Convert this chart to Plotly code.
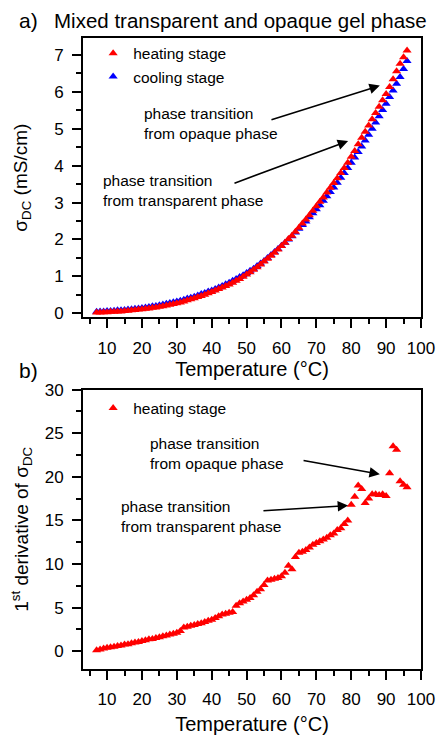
import plotly.graph_objects as go

# ---------------- data ----------------
temp_heat = list(range(7, 97))
sigma_heat = [0.02, 0.02, 0.03, 0.03, 0.04, 0.04, 0.05, 0.05, 0.06, 0.07,
              0.08, 0.09, 0.10, 0.11, 0.12, 0.13, 0.15, 0.16, 0.18, 0.19,
              0.21, 0.23, 0.25, 0.27, 0.29, 0.32, 0.35, 0.38, 0.41, 0.44,
              0.47, 0.50, 0.54, 0.58, 0.62, 0.66, 0.70, 0.74, 0.78, 0.83,
              0.88, 0.93, 0.99, 1.05, 1.11, 1.18, 1.25, 1.32, 1.40, 1.48,
              1.56, 1.64, 1.73, 1.82, 1.91, 2.01, 2.10, 2.21, 2.32, 2.43,
              2.54, 2.66, 2.78, 2.90, 3.02, 3.14, 3.27, 3.40, 3.53, 3.66,
              3.80, 3.94, 4.08, 4.24, 4.40, 4.58, 4.76, 4.92, 5.09, 5.26,
              5.43, 5.60, 5.77, 5.94, 6.13, 6.34, 6.56, 6.76, 6.94, 7.12]

temp_cool = list(range(7, 97))
sigma_cool = [0.04, 0.05, 0.05, 0.06, 0.06, 0.07, 0.08, 0.08, 0.09, 0.10,
              0.11, 0.12, 0.13, 0.14, 0.16, 0.17, 0.19, 0.20, 0.22, 0.24,
              0.26, 0.28, 0.30, 0.32, 0.34, 0.37, 0.40, 0.42, 0.45, 0.48,
              0.52, 0.55, 0.59, 0.62, 0.66, 0.70, 0.74, 0.79, 0.83, 0.88,
              0.93, 0.98, 1.03, 1.09, 1.15, 1.21, 1.28, 1.35, 1.42, 1.50,
              1.58, 1.66, 1.74, 1.83, 1.91, 2.00, 2.09, 2.19, 2.29, 2.39,
              2.49, 2.60, 2.71, 2.82, 2.93, 3.05, 3.17, 3.29, 3.41, 3.54,
              3.67, 3.80, 3.94, 4.08, 4.22, 4.37, 4.52, 4.68, 4.84, 5.00,
              5.17, 5.34, 5.51, 5.68, 5.86, 6.04, 6.22, 6.40, 6.62, 6.84]

temp_deriv = list(range(7, 97))
deriv_heat = [0.10, 0.20, 0.30, 0.40, 0.45, 0.50, 0.60, 0.65, 0.75, 0.80,
              0.90, 1.00, 1.05, 1.15, 1.25, 1.35, 1.40, 1.50, 1.60, 1.70,
              1.80, 1.90, 2.00, 2.10, 2.30, 2.70, 2.80, 2.90, 3.00, 3.10,
              3.20, 3.35, 3.50, 3.60, 3.80, 4.00, 4.20, 4.30, 4.40, 4.50,
              5.20, 5.50, 5.70, 5.90, 6.10, 6.40, 6.80, 7.10, 7.60, 8.10,
              8.20, 8.30, 8.40, 8.60, 9.00, 9.80, 9.40, 10.8, 11.3, 11.4,
              11.6, 11.9, 12.2, 12.4, 12.6, 12.8, 13.0, 13.3, 13.5, 13.9,
              14.1, 14.6, 15.0, 16.8, 17.7, 19.0, 18.6, 17.0, 17.5, 18.0,
              18.0, 17.9, 18.0, 17.8, 20.4, 23.5, 23.1, 19.5, 19.1, 18.8]

x_ticks = [10, 20, 30, 40, 50, 60, 70, 80, 90, 100]

# ---------------- figure ----------------
FONT = "Arial, 'Liberation Sans', sans-serif"
RED = "#ff0000"
BLUE = "#0000ff"

fig = go.Figure()
fig.add_trace(go.Scatter(x=temp_cool, y=sigma_cool, mode="markers", name="cooling stage",
                         marker=dict(symbol="triangle-up", size=8, color=BLUE),
                         xaxis="x", yaxis="y", legend="legend", legendrank=2))
fig.add_trace(go.Scatter(x=temp_heat, y=sigma_heat, mode="markers", name="heating stage",
                         marker=dict(symbol="triangle-up", size=8, color=RED),
                         xaxis="x", yaxis="y", legend="legend", legendrank=1))
fig.add_trace(go.Scatter(x=temp_deriv, y=deriv_heat, mode="markers", name="heating stage",
                         marker=dict(symbol="triangle-up", size=8, color=RED),
                         xaxis="x2", yaxis="y2", legend="legend2"))

axis_common = dict(showline=True, mirror=True, linecolor="black", linewidth=2,
                   ticks="outside", tickcolor="black", tickwidth=2, ticklen=9,
                   showgrid=False, zeroline=False,
                   tickfont=dict(family=FONT, size=17, color="black"),
                   ticklabelstandoff=5)

xa = dict(axis_common, range=[3.1, 100], tickvals=x_ticks,
          minor=dict(ticks="outside", ticklen=5, tickwidth=2, tickcolor="black",
                     dtick=5, tick0=5, showgrid=False))
xtitle_font = dict(family=FONT, size=20, color="black")

top_dom = [0.5573, 1.0]
bot_dom = [0.0, 0.4427]

fig.update_layout(
    width=447, height=744,
    margin=dict(l=83, r=26, t=38, b=69),
    paper_bgcolor="white", plot_bgcolor="white",
    font=dict(family=FONT, color="black"),
    xaxis=dict(xa, anchor="y",
               title=dict(text="Temperature (°C)", font=xtitle_font, standoff=3)),
    xaxis2=dict(xa, anchor="y2",
                title=dict(text="Temperature (°C)", font=xtitle_font, standoff=9)),
    yaxis=dict(axis_common, domain=top_dom, anchor="x", range=[-0.11, 7.46],
               dtick=1, tick0=0,
               minor=dict(ticks="outside", ticklen=5, tickwidth=2, tickcolor="black",
                          dtick=0.5, showgrid=False),
               title=dict(text="σ<sub>DC</sub> (mS/cm)",
                          font=dict(family=FONT, size=19, color="black"), standoff=21)),
    yaxis2=dict(axis_common, domain=bot_dom, anchor="x2", range=[-2.05, 30],
                dtick=5, tick0=0,
                minor=dict(ticks="outside", ticklen=5, tickwidth=2, tickcolor="black",
                           dtick=2.5, showgrid=False),
                title=dict(text="1<sup>st</sup> derivative of σ<sub>DC</sub>",
                           font=dict(family=FONT, size=19, color="black"), standoff=11)),
    legend=dict(x=0.03, y=1.002, xanchor="left", yanchor="top",
                bgcolor="rgba(0,0,0,0)", font=dict(family=FONT, size=15.5, color="black"),
                traceorder="normal"),
    legend2=dict(x=0.03, y=0.44, xanchor="left", yanchor="top",
                 bgcolor="rgba(0,0,0,0)", font=dict(family=FONT, size=15.5, color="black")),
    showlegend=True,
)

ann_font = dict(family=FONT, size=15.5, color="black")
annotations = [
    # panel labels and title
    dict(text="a)", xref="paper", yref="paper", x=-0.195, y=1.028, xanchor="left",
         yanchor="middle", showarrow=False, font=dict(family=FONT, size=21, color="black")),
    dict(text="Mixed transparent and opaque gel phase", xref="paper", yref="paper",
         x=-0.092, y=1.028, xanchor="left", yanchor="middle", showarrow=False,
         font=dict(family=FONT, size=20.5, color="black")),
    dict(text="b)", xref="paper", yref="paper", x=-0.195, y=0.473, xanchor="left",
         yanchor="middle", showarrow=False, font=dict(family=FONT, size=21, color="black")),
    # top panel texts
    dict(text="phase transition<br>from opaque phase", xref="x", yref="y", x=20.0, y=5.15,
         xanchor="left", yanchor="middle", align="left", showarrow=False, font=ann_font),
    dict(text="phase transition<br>from transparent phase", xref="x", yref="y", x=8.4, y=3.33,
         xanchor="left", yanchor="middle", align="left", showarrow=False, font=ann_font),
    # top panel arrows
    dict(text="", xref="x", yref="y", x=88.2, y=6.17, axref="x", ayref="y", ax=56.7, ay=5.23,
         showarrow=True, arrowhead=2, arrowsize=1.3, arrowwidth=1.6, arrowcolor="black"),
    dict(text="", xref="x", yref="y", x=79.1, y=4.67, axref="x", ayref="y", ax=46.1, ay=3.51,
         showarrow=True, arrowhead=2, arrowsize=1.3, arrowwidth=1.6, arrowcolor="black"),
    # bottom panel texts
    dict(text="phase transition<br>from opaque phase", xref="x2", yref="y2", x=21.7, y=22.7,
         xanchor="left", yanchor="middle", align="left", showarrow=False, font=ann_font),
    dict(text="phase transition<br>from transparent phase", xref="x2", yref="y2", x=13.3, y=15.5,
         xanchor="left", yanchor="middle", align="left", showarrow=False, font=ann_font),
    # bottom panel arrows
    dict(text="", xref="x2", yref="y2", x=88.2, y=20.3, axref="x2", ayref="y2", ax=65.9, ay=21.9,
         showarrow=True, arrowhead=2, arrowsize=1.3, arrowwidth=1.6, arrowcolor="black"),
    dict(text="", xref="x2", yref="y2", x=79.1, y=16.7, axref="x2", ayref="y2", ax=54.4, ay=16.1,
         showarrow=True, arrowhead=2, arrowsize=1.3, arrowwidth=1.6, arrowcolor="black"),
]
fig.update_layout(annotations=annotations)

fig.write_html("out.html",
               config={"displayModeBar": False},
               post_script="document.body.style.margin='0';document.body.style.overflow='hidden';")
